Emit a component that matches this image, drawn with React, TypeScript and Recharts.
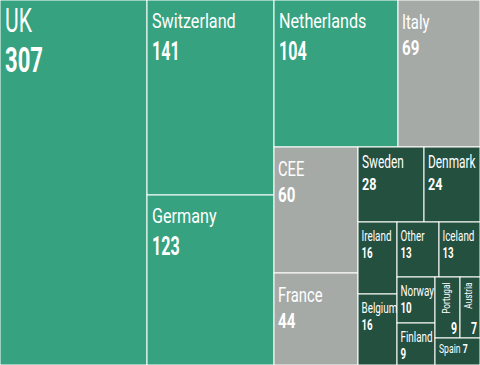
import React from 'react';
import { Treemap } from 'recharts';

// ---- data ----
const countries = ['UK', 'Switzerland', 'Germany', 'Netherlands', 'Italy', 'CEE', 'France', 'Sweden', 'Denmark', 'Ireland', 'Belgium', 'Other', 'Iceland', 'Norway', 'Finland', 'Portugal', 'Austria', 'Spain'];
const values = [307, 141, 123, 104, 69, 60, 44, 28, 24, 16, 16, 13, 13, 10, 9, 9, 7, 7];
const groups = ['core', 'core', 'core', 'core', 'mid', 'mid', 'mid', 'minor', 'minor', 'minor', 'minor', 'minor', 'minor', 'minor', 'minor', 'minor', 'minor', 'minor'];

// hierarchy (indices into the arrays above); {row: [...]} = members laid side by side
type Spec = number | Spec[] | { row: number[] };
const nesting: Spec[] = [0, [[1, 2], [[3, 4], [[5, 6], [[7, 8], [[9, 10], [[11, 12], [[13, 14], [{ row: [15, 16] }, 17]]]]]]]]];

const build = (spec: Spec): any => {
  if (typeof spec === 'number') return { name: countries[spec], size: values[spec], group: groups[spec] };
  if (Array.isArray(spec)) return { children: spec.map(build) };
  // a zero-size spacer keeps the members in a single row
  return { children: [{ name: '', size: 0 }, ...spec.row.map(build)] };
};
const treeData = nesting.map(build);

// ---- styles ----
const COLORS: Record<string, string> = { core: '#36a27f', mid: '#a6aaa7', minor: '#24503f' };
const FONT = 'Roboto, "Noto Sans", sans-serif';

const tierFor = (v: number) => {
  if (v >= 300) return { dx: 5, nfs: 34, nsx: 0.62, ny: 32, vfs: 35, vsx: 0.63, vy: 72 };
  if (v >= 100) return { dx: 5, nfs: 21, nsx: 0.77, ny: 28, vfs: 26, vsx: 0.62, vy: 60 };
  if (v >= 40) return { dx: 4, nfs: 20, nsx: 0.74, ny: 29, vfs: 21, vsx: 0.72, vy: 55 };
  if (v >= 20) return { dx: 4, nfs: 17.5, nsx: 0.68, ny: 20.5, vfs: 17, vsx: 0.74, vy: 42.5 };
  return { dx: 3.5, nfs: 15, nsx: 0.66, ny: 19, vfs: 15.5, vsx: 0.63, vy: 36 };
};

const Txt = ({ x, y, fs, sx, bold, anchor, rotate, children }: any) => (
  <text
    transform={`translate(${x},${y})${rotate ? ' rotate(-90)' : ''} scale(${sx},1)`}
    x={0}
    y={0}
    fontSize={fs}
    fontWeight={bold ? 700 : 400}
    fontFamily={FONT}
    fill="#ffffff"
    textAnchor={anchor || 'start'}
  >
    {children}
  </text>
);

const renderCell = (props: any) => {
  const { x, y, width, height, name, children, group } = props;
  if (children && children.length) return <g />;
  if (!name || !width || width < 1) return <g />;
  const v = props.size ?? props.value;
  const fill = COLORS[group] || '#24503f';
  let label: any = null;
  if (width < 30) {
    label = (
      <g>
        <Txt x={x + width / 2 + 2} y={y + 5.5} fs={11.5} sx={0.72} anchor="end" rotate>{name}</Txt>
        <Txt x={x + width - 3} y={y + height - 4} fs={16} sx={0.66} bold anchor="end">{v}</Txt>
      </g>
    );
  } else if (height < 30) {
    label = (
      <text transform={`translate(${x + 4},${y + 15}) scale(0.72,1)`} fontSize={12} fontFamily={FONT} fill="#ffffff">
        <tspan>{name} </tspan>
        <tspan fontWeight={700}>{v}</tspan>
      </text>
    );
  } else {
    const t = tierFor(v);
    label = (
      <g>
        <Txt x={x + t.dx} y={y + t.ny} fs={t.nfs} sx={t.nsx}>{name}</Txt>
        <Txt x={x + t.dx} y={y + t.vy} fs={t.vfs} sx={t.vsx} bold>{v}</Txt>
      </g>
    );
  }
  return (
    <g>
      <rect x={x} y={y} width={width} height={height} fill={fill} stroke="#ffffff" strokeWidth={1} />
      {label}
    </g>
  );
};

export default function App() {
  return (
    <div style={{ position: 'absolute', left: 0, top: 0, width: 480, height: 365, background: '#ffffff' }}>
      <Treemap
        width={480}
        height={365}
        data={treeData}
        dataKey="size"
        nameKey="name"
        aspectRatio={1.25}
        isAnimationActive={false}
        content={renderCell as any}
      />
    </div>
  );
}
